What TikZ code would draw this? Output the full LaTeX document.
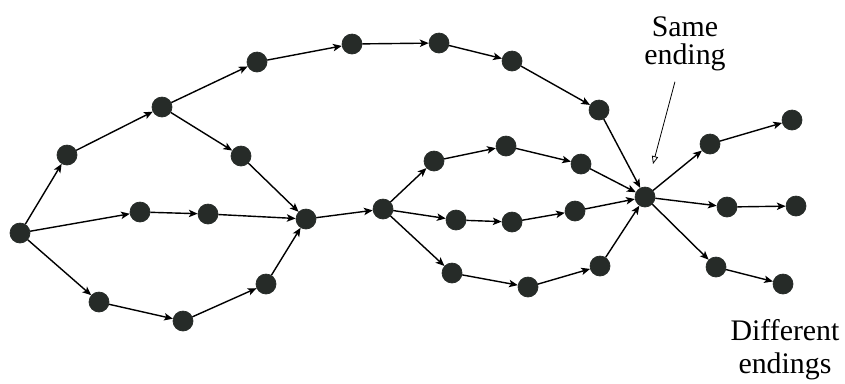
\documentclass[tikz,border=0pt]{standalone}
\usepackage{fontspec}
\setmainfont{Liberation Serif}
\definecolor{dotInk}{HTML}{262B28}
\usetikzlibrary{arrows.meta, positioning}

\begin{document}
\begin{tikzpicture}[
    x=0.02cm, y=-0.02cm,
    dot/.style={
      circle,
      fill=dotInk,
      draw=dotInk,
      minimum size=0.4cm,
      inner sep=0pt,
    },
    arr/.style={-{Stealth[length=5pt, width=4.2pt, inset=1.2pt]}, black, line width=0.8pt},
    pointer/.style={-{Triangle[open, length=4.5pt, width=3.6pt]}, black, line width=0.45pt},
    lbl/.style={font=\fontsize{17}{16}\selectfont, align=center, inner sep=1pt},
  ]
    \useasboundingbox (0,0) rectangle (845,383);

    % start
    \node[dot] (start) at (20,233) {};

    % upper arc
    \node[dot] (a1) at (67,155) {};
    \node[dot] (a2) at (162,107) {};
    \node[dot] (a3) at (257,62) {};
    \node[dot] (a4) at (352,44) {};
    \node[dot] (a5) at (439,43) {};
    \node[dot] (a6) at (512,61) {};
    \node[dot] (a7) at (599,110) {};

    % short cut down to the join
    \node[dot] (b1) at (241,156) {};

    % middle row
    \node[dot] (c1) at (140,212) {};
    \node[dot] (c2) at (208,214) {};

    % lower arc
    \node[dot] (d1) at (99,302) {};
    \node[dot] (d2) at (183,321) {};
    \node[dot] (d3) at (266,284) {};

    % join and fork
    \node[dot] (join) at (306,219) {};
    \node[dot] (fork) at (383,209) {};

    % three inner branches
    \node[dot] (e1) at (434,161) {};
    \node[dot] (e2) at (506,146) {};
    \node[dot] (e3) at (581,164) {};
    \node[dot] (f1) at (456,220) {};
    \node[dot] (f2) at (512,222) {};
    \node[dot] (f3) at (575,211) {};
    \node[dot] (g1) at (452,273) {};
    \node[dot] (g2) at (528,287) {};
    \node[dot] (g3) at (600,266) {};

    % hub
    \node[dot] (hub) at (645,197) {};

    % endings
    \node[dot] (h1) at (710,144) {};
    \node[dot] (h2) at (792,120) {};
    \node[dot] (i1) at (727,207) {};
    \node[dot] (i2) at (796,206) {};
    \node[dot] (k1) at (716,267) {};
    \node[dot] (k2) at (783,284) {};

    % labels
    \node[lbl] (samelbl) at (685,44) {Same\\ending};
    \node[lbl, font=\fontsize{17}{19}\selectfont] (difflbl) at (785,350) {Different\\endings};
    \coordinate (sametip) at (653,164);

    % arrows
    \draw[arr] (start) -- (a1);
    \draw[arr] (a1) -- (a2);
    \draw[arr] (a2) -- (a3);
    \draw[arr] (a3) -- (a4);
    \draw[arr] (a4) -- (a5);
    \draw[arr] (a5) -- (a6);
    \draw[arr] (a6) -- (a7);
    \draw[arr] (a7) -- (hub);
    \draw[arr] (a2) -- (b1);
    \draw[arr] (b1) -- (join);
    \draw[arr] (start) -- (c1);
    \draw[arr] (c1) -- (c2);
    \draw[arr] (c2) -- (join);
    \draw[arr] (start) -- (d1);
    \draw[arr] (d1) -- (d2);
    \draw[arr] (d2) -- (d3);
    \draw[arr] (d3) -- (join);
    \draw[arr] (join) -- (fork);
    \draw[arr] (fork) -- (e1);
    \draw[arr] (e1) -- (e2);
    \draw[arr] (e2) -- (e3);
    \draw[arr] (e3) -- (hub);
    \draw[arr] (fork) -- (f1);
    \draw[arr] (f1) -- (f2);
    \draw[arr] (f2) -- (f3);
    \draw[arr] (f3) -- (hub);
    \draw[arr] (fork) -- (g1);
    \draw[arr] (g1) -- (g2);
    \draw[arr] (g2) -- (g3);
    \draw[arr] (g3) -- (hub);
    \draw[arr] (hub) -- (h1);
    \draw[arr] (h1) -- (h2);
    \draw[arr] (hub) -- (i1);
    \draw[arr] (i1) -- (i2);
    \draw[arr] (hub) -- (k1);
    \draw[arr] (k1) -- (k2);
    \draw[pointer, shorten <=5pt] (samelbl) -- (sametip);
  \end{tikzpicture}
\end{document}
